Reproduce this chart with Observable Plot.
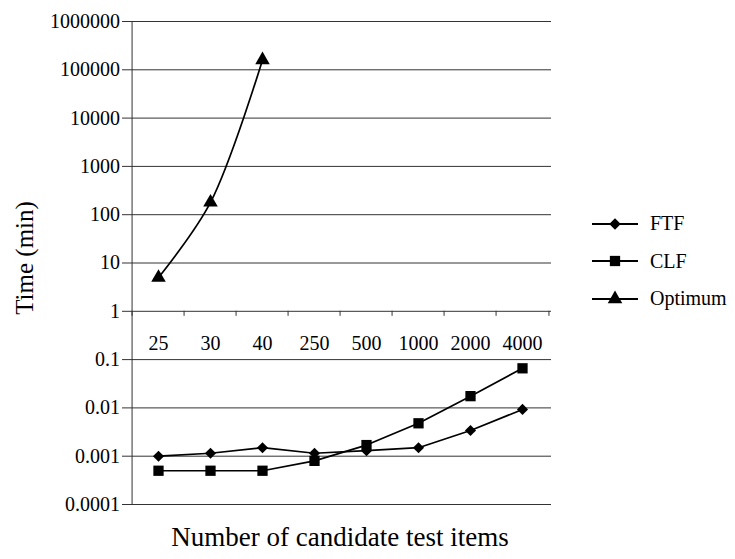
<!DOCTYPE html>
<html>
<head>
<meta charset="utf-8">
<script src="https://cdn.jsdelivr.net/npm/d3@7"></script>
<script src="https://cdn.jsdelivr.net/npm/@observablehq/plot@0.6"></script>
<style>
  html, body { margin: 0; padding: 0; background: #fff; }
  #wrap { position: relative; width: 735px; height: 559px; font-family: "Liberation Serif", "DejaVu Serif", serif; }
  #legend { position: absolute; left: 590px; top: 205px; }
  .row { display: flex; align-items: center; height: 37.5px; font-size: 20px; color: #000; }
  .row svg { margin-right: 10px; }
</style>
</head>
<body>
<div id="wrap"><div id="chart"></div><div id="legend"></div></div>
<script>
const categories = ["25", "30", "40", "250", "500", "1000", "2000", "4000"];
const ftfValues = [0.001, 0.00115, 0.0015, 0.00115, 0.0013, 0.0015, 0.0034, 0.0093];
const clfValues = [0.0005, 0.0005, 0.0005, 0.0008, 0.0017, 0.0048, 0.0175, 0.066];
const optimumCategories = ["25", "30", "40"];
const optimumValues = [5, 180, 160000];
const yTicks = [0.0001, 0.001, 0.01, 0.1, 1, 10, 100, 1000, 10000, 100000, 1000000];
const yTickLabels = ["0.0001", "0.001", "0.01", "0.1", "1", "10", "100", "1000", "10000", "100000", "1000000"];
const seriesNames = ["FTF", "CLF", "Optimum"];
const seriesSymbols = ["diamond2", "square", "triangle"];
const yTitle = "Time (min)";
const xTitle = "Number of candidate test items";

const W = 735, H = 559;
const mL = 128, mR = 184, mT = 21, mB = 55;
const step = (W - mL - mR) / categories.length;

const ftf = categories.map((c, i) => ({x: c, y: ftfValues[i]}));
const clf = categories.map((c, i) => ({x: c, y: clfValues[i]}));
const opt = optimumCategories.map((c, i) => ({x: c, y: optimumValues[i]}));
const labelOf = new Map(yTicks.map((t, i) => [t, yTickLabels[i]]));
const firstCat = categories[0];
const lastCat = categories[categories.length - 1];

const chart = Plot.plot({
  width: W, height: H,
  marginLeft: mL, marginRight: mR, marginTop: mT, marginBottom: mB,
  style: {fontFamily: "Liberation Serif, serif", fontSize: "20px", color: "#000", background: "#fff"},
  x: {type: "point", domain: categories, padding: 0.5, axis: null},
  y: {type: "log", domain: [0.0001, 1000000], axis: null},
  marks: [
    Plot.ruleY(yTicks, {stroke: "#333", strokeWidth: 1, insetLeft: -6}),
    // left axis line
    Plot.ruleX([firstCat], {x: d => d, dx: -step / 2, stroke: "#333", strokeWidth: 1}),
    // category tick marks on the axis at y = 1
    Plot.ruleX(categories, {x: d => d, y1: 1, y2: 1, dx: -step / 2, insetBottom: -5, stroke: "#333"}),
    Plot.ruleX([lastCat], {x: d => d, y1: 1, y2: 1, dx: step / 2, insetBottom: -5, stroke: "#333"}),
    // y tick labels
    Plot.text(yTicks, {x: () => firstCat, y: d => d, text: d => labelOf.get(d), dx: -step / 2 - 12, textAnchor: "end", fontSize: 20}),
    // x tick labels placed under the y = 1 line
    Plot.text(categories, {x: d => d, y: () => 1, text: d => d, dy: 32, fontSize: 20}),
    // series
    Plot.line(ftf, {x: "x", y: "y", stroke: "#000", strokeWidth: 1.7}),
    Plot.dot(ftf, {x: "x", y: "y", symbol: "diamond2", r: 5, fill: "#000"}),
    Plot.line(clf, {x: "x", y: "y", stroke: "#000", strokeWidth: 1.7}),
    Plot.dot(clf, {x: "x", y: "y", symbol: "square", r: 5.8, fill: "#000"}),
    Plot.line(opt, {x: "x", y: "y", stroke: "#000", strokeWidth: 1.7, curve: "catmull-rom"}),
    Plot.dot(opt, {x: "x", y: "y", symbol: "triangle", r: 5.4, fill: "#000"}),
    // titles
    Plot.text([yTitle], {frameAnchor: "left", textAnchor: "middle", rotate: -90, dx: -104, dy: -5, fontSize: 25}),
    Plot.text([xTitle], {frameAnchor: "bottom", textAnchor: "middle", dy: 41, fontSize: 27})
  ]
});
document.getElementById("chart").appendChild(chart);

// legend
const legend = d3.select("#legend");
const symMap = {diamond2: d3.symbolDiamond2, square: d3.symbolSquare, triangle: d3.symbolTriangle};
const sizes = [5.2, 5.8, 5.4];
seriesNames.forEach((name, i) => {
  const row = legend.append("div").attr("class", "row");
  const svg = row.append("svg").attr("width", 50).attr("height", 20);
  svg.append("line").attr("x1", 2).attr("x2", 48).attr("y1", 10).attr("y2", 10).attr("stroke", "#000").attr("stroke-width", 1.8);
  svg.append("path").attr("transform", "translate(25,10)")
    .attr("d", d3.symbol(symMap[seriesSymbols[i]], Math.PI * sizes[i] * sizes[i])()).attr("fill", "#000");
  row.append("span").text(name);
});
</script>
</body>
</html>
